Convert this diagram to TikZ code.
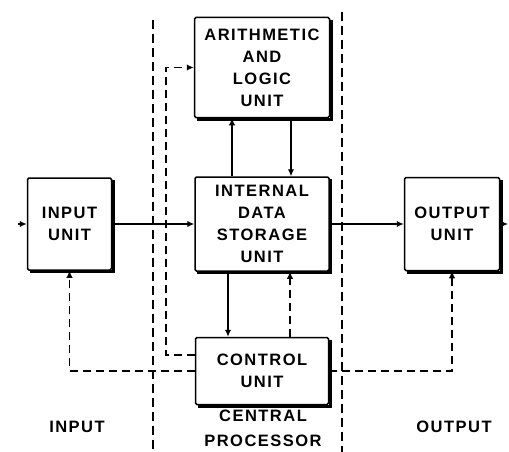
\documentclass[tikz,border=0pt]{standalone}
\usepackage{fontspec}
\setmainfont{Liberation Sans}[LetterSpace=9]
\usetikzlibrary{positioning, arrows.meta}

\tikzset{
  unitbox/.style={draw, line width=1.5pt, rounded corners=1.5pt, align=center,
    inner sep=0pt, font=\fontsize{16.5}{22}\selectfont\bfseries},
  flow/.style={line width=1.6pt, -{Latex[length=7pt,width=6.5pt]}},
  ctrlflow/.style={flow, dash pattern=on 8pt off 5pt},
  divider/.style={line width=1.4pt, dash pattern=on 9pt off 5pt},
  region/.style={align=center, font=\fontsize{16.5}{25}\selectfont\bfseries}
}

\begin{document}
\begin{tikzpicture}[x=1pt, y=-1pt]
  \useasboundingbox (0,0) rectangle (509,452);

  % the five units
  \node[unitbox, minimum width=134pt, minimum height=94pt] (store) at (262,224) {INTERNAL\\DATA\\STORAGE\\UNIT};
  \node[unitbox, minimum width=135pt, minimum height=100pt, above=58pt of store] (alu) {ARITHMETIC\\AND\\LOGIC\\UNIT};
  \node[unitbox, minimum width=133pt, minimum height=67pt, below=65pt of store] (ctrl) {CONTROL\\UNIT};
  \node[unitbox, minimum width=84pt, minimum height=92pt, left=82pt of store] (inp) {INPUT\\UNIT};
  \node[unitbox, minimum width=95pt, minimum height=93pt, right=74pt of store] (outp) {OUTPUT\\UNIT};

  % heavy bottom and right edges
  \foreach \n in {alu,store,ctrl,inp,outp}
    \draw[line width=3.2pt] ([xshift=3pt,yshift=-1pt]\n.south west) -- ([shift={(1pt,-1pt)}]\n.south east) -- ([xshift=1pt,yshift=-3pt]\n.north east);

  \coordinate (datain) at (18,224);
  \coordinate (dataout) at (508,224);

  % data paths
  \draw[flow] (datain) -- (inp.west);
  \draw[flow] (inp.east) -- (store.west);
  \draw[flow] (store.east) -- (outp.west);
  \draw[flow] (outp.east) -- (dataout);
  \draw[flow] ([xshift=-30pt]store.north) -- ([xshift=-30pt]alu.south);
  \draw[flow] ([xshift=29pt]alu.south) -- ([xshift=29pt]store.north);
  \draw[flow] ([xshift=-34pt]store.south) -- ([xshift=-34pt]ctrl.north);

  % control paths
  \draw[ctrlflow] ([xshift=28pt]ctrl.north) -- ([xshift=28pt]store.south);
  \draw[ctrlflow] ([yshift=16pt]ctrl.west) -- ++(-29,0) |- (alu.west);
  \draw[ctrlflow] (ctrl.west) -| (inp.south);
  \draw[ctrlflow] (ctrl.east) -| (outp.south);

  % section boundaries
  \draw[divider] (153,20) -- (153,452);
  \draw[divider] (342,12) -- (342,452);

  \node[region] (inlabel) at (77,427) {INPUT};
  \node[region] (cplabel) at (263,428) {CENTRAL\\PROCESSOR};
  \node[region] (outlabel) at (454,427) {OUTPUT};
\end{tikzpicture}
\end{document}
